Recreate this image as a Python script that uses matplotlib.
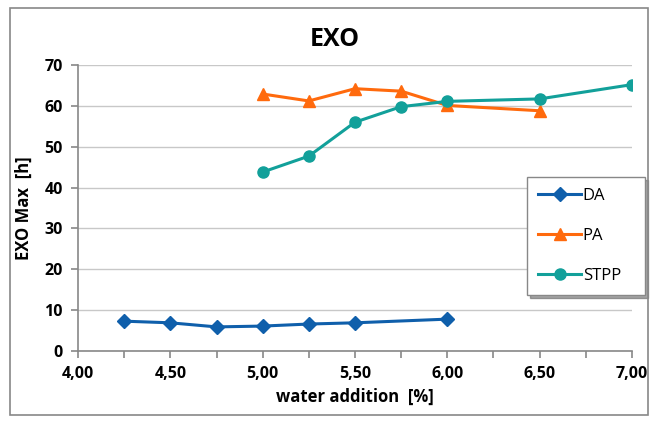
import matplotlib
matplotlib.use('Agg')
import matplotlib.pyplot as plt
from matplotlib.patches import Rectangle
from matplotlib.ticker import MultipleLocator, FuncFormatter

# ---------------------- DATA
da_x = [4.25, 4.50, 4.75, 5.00, 5.25, 5.50, 6.00]
da_y = [7.3, 6.9, 5.9, 6.1, 6.6, 6.9, 7.8]

pa_x = [5.00, 5.25, 5.50, 5.75, 6.00, 6.50]
pa_y = [62.9, 61.2, 64.2, 63.6, 60.1, 58.8]

stpp_x = [5.00, 5.25, 5.50, 5.75, 6.00, 6.50, 7.00]
stpp_y = [43.8, 47.7, 56.0, 59.8, 61.1, 61.7, 65.2]

plt.rcParams['font.family'] = ['Open Sans', 'DejaVu Sans']

fig = plt.figure(figsize=(6.58, 4.23), dpi=100)
ax = fig.add_axes([78/658, 1 - 351/423, (632-78)/658, (351-65)/423])

ax.plot(da_x, da_y, color='#0f5fab', lw=2.2, marker='D', ms=7, label='DA')
ax.plot(pa_x, pa_y, color='#ff6a0d', lw=2.2, marker='^', ms=9, label='PA')
ax.plot(stpp_x, stpp_y, color='#12a09a', lw=2.2, marker='o', ms=8, label='STPP')

# axes format
ax.set_xlim(4, 7)
ax.set_ylim(0, 70)
ax.xaxis.set_major_locator(MultipleLocator(0.5))
ax.xaxis.set_minor_locator(MultipleLocator(0.25))
ax.yaxis.set_major_locator(MultipleLocator(10))
ax.xaxis.set_major_formatter(FuncFormatter(lambda v, p: '{:.2f}'.format(v).replace('.', ',')))
ax.yaxis.grid(True, color='#c8c8c8', lw=1)
ax.set_axisbelow(True)
for s in ['top', 'right']:
    ax.spines[s].set_visible(False)
for s in ['left', 'bottom']:
    ax.spines[s].set_color('#888888')
    ax.spines[s].set_linewidth(1.2)
ax.tick_params(axis='both', which='both', color='#888888', length=5, width=1.2,
               labelsize=11.5, pad=6)
for lbl in ax.get_xticklabels() + ax.get_yticklabels():
    lbl.set_fontweight('bold')

ax.set_xlabel('water addition  [%]', fontsize=12, fontweight='bold', labelpad=4)
ax.set_ylabel('EXO Max  [h]', fontsize=12, fontweight='bold', labelpad=8)
fig.text(335/658, 1 - 40/423, 'EXO', fontsize=18, fontweight='bold',
         ha='center', va='center')

# legend box stretched to the reference width
leg = ax.legend(loc='upper left',
                bbox_to_anchor=((527-78)/554, (351-295)/286, 118/554, 118/286),
                mode='expand', frameon=True, fancybox=False, shadow=True, fontsize=12,
                labelspacing=1.45, handlelength=2.6, handletextpad=0.1,
                borderpad=0.65, borderaxespad=0)
leg.get_frame().set_edgecolor('#888888')
leg.get_frame().set_linewidth(1.0)

# outer chart frame
fig.patches.append(Rectangle((10/658, 8/423), 638/658, 407/423, transform=fig.transFigure,
                             fill=False, edgecolor='#888888', lw=1.2))

fig.savefig('out.png', dpi=100)
